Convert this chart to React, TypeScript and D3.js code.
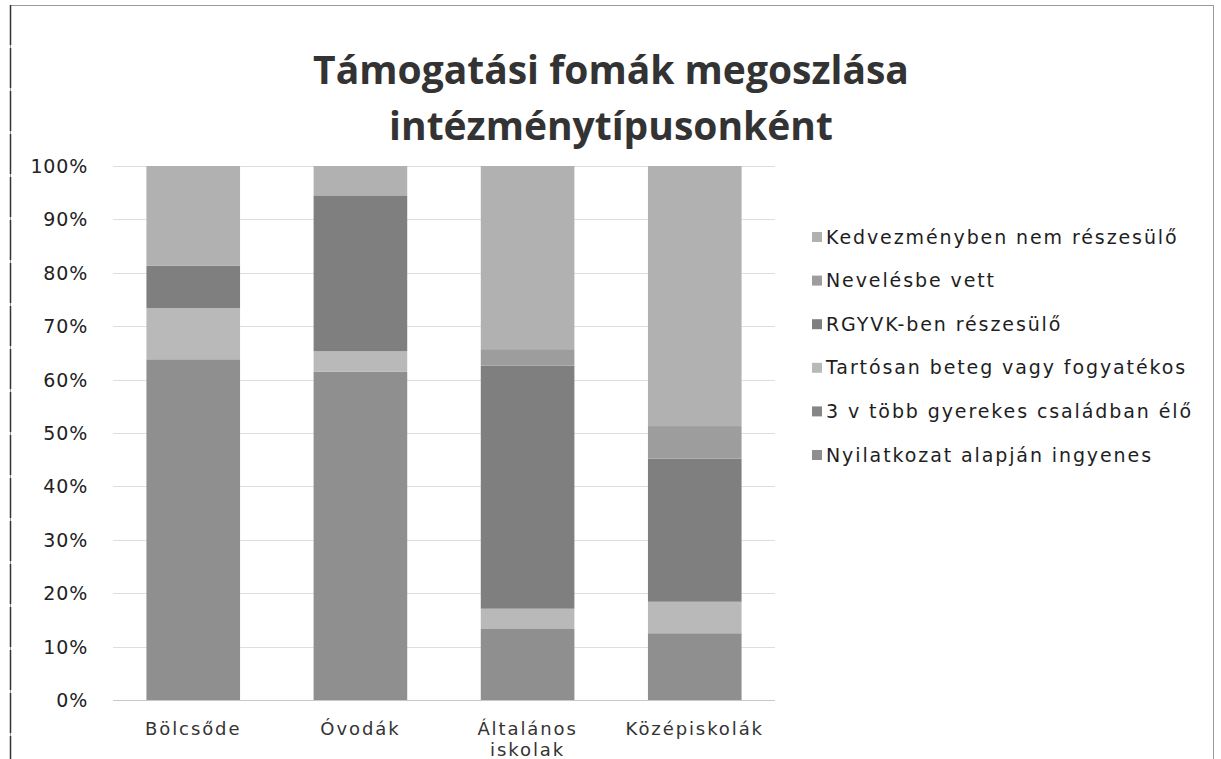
import { useEffect, useRef } from 'react';
import * as d3 from 'd3';

const categories = ["Bölcsőde", "Óvodák", "Általános iskolak", "Középiskolák"];
const categoryLines = [["Bölcsőde"], ["Óvodák"], ["Általános", "iskolak"], ["Középiskolák"]];

// series, bottom of the stack first
const seriesNames = [
  "Nyilatkozat alapján ingyenes",
  "3 v több gyerekes családban élő",
  "Tartósan beteg vagy fogyatékos",
  "RGYVK-ben részesülő",
  "Nevelésbe vett",
  "Kedvezményben nem részesülő",
];
const nyilatkozat = [63.8, 61.5, 13.3, 12.5];
const harom = [0, 0, 0, 0];
const tartosan = [9.6, 3.8, 3.8, 5.9];
const rgyvk = [7.9, 29.2, 45.5, 26.8];
const nevelesbe = [0, 0, 3.1, 6.1];
const kedvezmeny = [18.7, 5.5, 34.3, 48.7];
const yTicks = [0, 10, 20, 30, 40, 50, 60, 70, 80, 90, 100];

const seriesColors = ["#8f8f8f", "#868686", "#b9b9b9", "#7f7f7f", "#9d9d9d", "#b1b1b1"];

const App = () => {
  const svgRef = useRef(null);

  useEffect(() => {
    if (!svgRef.current) return;
    const svg = d3.select(svgRef.current);
    svg.selectAll("*").remove();

    const W = 1221, H = 759;
    const plot = { left: 113, right: 775, top: 166, bottom: 700 };
    const font = "DejaVu Sans, sans-serif";

    // frame
    svg.append("rect").attr("x", 10.5).attr("y", 5.5).attr("width", W - 18).attr("height", H)
      .attr("fill", "white").attr("stroke", "#9a9a9a").attr("stroke-width", 1);
    svg.append("line").attr("x1", 10.5).attr("x2", 10.5).attr("y1", 5).attr("y2", H)
      .attr("stroke", "#333").attr("stroke-width", 1.5).attr("stroke-dasharray", "40 3");

    // title
    const title = svg.append("text").attr("text-anchor", "middle")
      .attr("font-family", "Open Sans, sans-serif").attr("font-weight", 700)
      .attr("font-size", 39).attr("fill", "#333");
    title.append("tspan").attr("x", 611).attr("y", 84).text("Támogatási fomák megoszlása");
    title.append("tspan").attr("x", 611).attr("y", 140).text("intézménytípusonként");

    const x = d3.scaleBand().domain(categories).range([plot.left, plot.right]).paddingInner(0.44).paddingOuter(0.2);
    const y = d3.scaleLinear().domain([0, 100]).range([plot.bottom, plot.top]);

    // gridlines
    svg.append("g").selectAll("line").data(yTicks).enter().append("line")
      .attr("x1", plot.left).attr("x2", plot.right)
      .attr("y1", d => Math.round(y(d)) + 0.5).attr("y2", d => Math.round(y(d)) + 0.5)
      .attr("stroke", d => d === 0 ? "#c8c8c8" : "#dedede").attr("stroke-width", 1);

    // y labels
    svg.append("g").selectAll("text").data(yTicks).enter().append("text")
      .attr("x", 88).attr("y", d => y(d) + 7).attr("text-anchor", "end")
      .attr("font-family", font).attr("font-size", 19).attr("letter-spacing", 0.8)
      .attr("fill", "#222").text(d => d + "%");

    // stacked bars
    const values = [nyilatkozat, harom, tartosan, rgyvk, nevelesbe, kedvezmeny];
    const rows = categories.map((c, i) => {
      const r: any = { category: c };
      seriesNames.forEach((s, j) => { r[s] = values[j][i]; });
      return r;
    });
    const stack = d3.stack().keys(seriesNames)(rows);
    svg.append("g").selectAll("g").data(stack).enter().append("g")
      .attr("fill", (_d, i) => seriesColors[i])
      .selectAll("rect").data(d => d).enter().append("rect")
      .attr("x", d => x(d.data.category as string)!)
      .attr("width", x.bandwidth())
      .attr("y", d => y(d[1]))
      .attr("height", d => Math.max(0, y(d[0]) - y(d[1])));

    // x labels
    const xl = svg.append("g").selectAll("text").data(categories).enter().append("text")
      .attr("text-anchor", "middle").attr("font-family", font)
      .attr("font-size", 18).attr("letter-spacing", 1.9).attr("fill", "#333");
    xl.each(function (c, i) {
      const t = d3.select(this);
      categoryLines[i].forEach((line, k) => {
        t.append("tspan").attr("x", x(c)! + x.bandwidth() / 2).attr("y", 735 + k * 21).text(line);
      });
    });

    // legend, top series first
    const legendItems = seriesNames.map((s, i) => ({ name: s, color: seriesColors[i] })).reverse();
    const lg = svg.append("g").selectAll("g").data(legendItems).enter().append("g")
      .attr("transform", (_d, i) => `translate(812, ${237 + i * 43.6})`);
    lg.append("rect").attr("x", 0).attr("y", -5).attr("width", 10).attr("height", 10)
      .attr("fill", d => d.color);
    lg.append("text").attr("x", 14).attr("y", 6.5)
      .attr("font-family", font).attr("font-size", 19).attr("letter-spacing", 1.9)
      .attr("fill", "#1e1e1e").text(d => d.name);
  }, []);

  return (
    <svg ref={svgRef} width={1221} height={759}
      style={{ position: "absolute", left: 0, top: 0, display: "block", background: "white" }}></svg>
  );
};

export default App;
